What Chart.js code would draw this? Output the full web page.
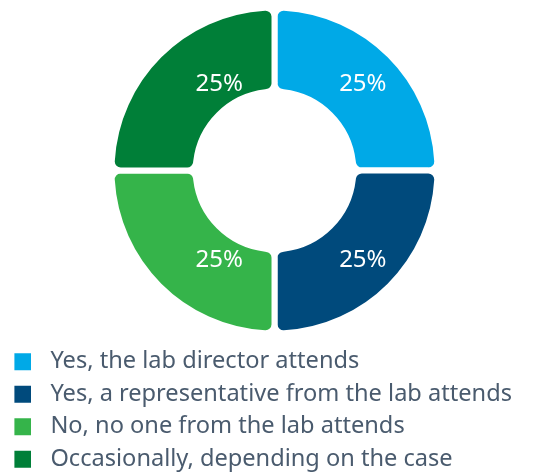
<!DOCTYPE html>
<html>
<head>
<meta charset="utf-8">
<script src="https://cdn.jsdelivr.net/npm/chart.js@4"></script>
<style>
html,body{margin:0;padding:0;background:#fff;}
#wrap{width:549px;height:476px;position:relative;}
</style>
</head>
<body>
<div id="wrap"><canvas id="c"></canvas></div>
<script>
const categories = [
  "Yes, the lab director attends",
  "Yes, a representative from the lab attends",
  "No, no one from the lab attends",
  "Occasionally, depending on the case"
];
const values = [25, 25, 25, 25];
const colors = ["#00A9E7", "#004A7C", "#35B44A", "#007F38"];

const FONT = "'Noto Sans', 'Open Sans', sans-serif";
const TEXT_COLOR = "#4a5b6e";

const sliceLabels = {
  id: 'sliceLabels',
  afterDatasetsDraw(chart) {
    const ctx = chart.ctx;
    const meta = chart.getDatasetMeta(0);
    const total = values.reduce((a, b) => a + b, 0);
    ctx.save();
    ctx.fillStyle = '#ffffff';
    ctx.font = '24px ' + FONT;
    ctx.textAlign = 'center';
    ctx.textBaseline = 'middle';
    meta.data.forEach((arc, i) => {
      const p = arc.getProps(['x', 'y', 'startAngle', 'endAngle', 'innerRadius', 'outerRadius'], true);
      const mid = (p.startAngle + p.endAngle) / 2;
      const r = (p.innerRadius + p.outerRadius) / 2 + 4;
      let lx = p.x + Math.cos(mid) * r;
      const ly = p.y + Math.sin(mid) * r + 1.5;
      if (Math.cos(mid) < 0) lx += 33;
      const pct = Math.round(values[i] / total * 100) + '%';
      ctx.fillText(pct, lx, ly);
    });
    ctx.restore();
  }
};

const legendFit = {
  id: 'legendFit',
  beforeInit(chart) {
    const lg = chart.legend;
    if (!lg) return;
    const orig = lg.fit;
    lg.fit = function () {
      orig.call(this);
      this.height -= 5;
    };
  }
};

const BOX_W = 17;
const BOX_SLOT = 24.2;

new Chart(document.getElementById('c'), {
  type: 'doughnut',
  data: {
    labels: categories,
    datasets: [{
      data: values,
      backgroundColor: colors,
      borderColor: '#ffffff',
      borderWidth: 6,
      borderRadius: 9,
      hoverOffset: 0
    }]
  },
  options: {
    responsive: true,
    maintainAspectRatio: false,
    animation: false,
    radius: 163,
    cutout: 81,
    layout: { padding: { left: 5.5, right: 5.5, top: 0, bottom: 0 } },
    plugins: {
      tooltip: { enabled: false },
      legend: {
        position: 'bottom',
        align: 'start',
        labels: {
          boxWidth: BOX_SLOT,
          boxHeight: 17,
          padding: 8.9,
          color: TEXT_COLOR,
          font: { family: FONT, size: 23.6 },
          generateLabels(chart) {
            const x0 = chart.legend.left + chart.options.plugins.legend.labels.padding;
            return categories.map((t, i) => {
              const g = chart.ctx.createLinearGradient(x0, 0, x0 + BOX_SLOT, 0);
              const f = BOX_W / BOX_SLOT;
              g.addColorStop(0, colors[i]);
              g.addColorStop(f, colors[i]);
              g.addColorStop(Math.min(f + 0.001, 1), 'rgba(255,255,255,0)');
              g.addColorStop(1, 'rgba(255,255,255,0)');
              return {
                text: t,
                fillStyle: g,
                strokeStyle: 'rgba(0,0,0,0)',
                lineWidth: 0,
                fontColor: TEXT_COLOR,
                hidden: false,
                index: i
              };
            });
          }
        }
      }
    }
  },
  plugins: [sliceLabels, legendFit]
});
</script>
</body>
</html>
